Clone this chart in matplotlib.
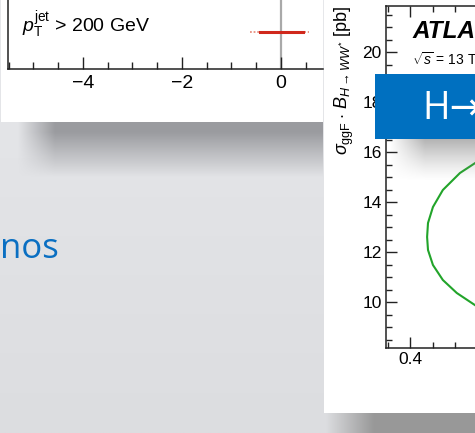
import numpy as np
import matplotlib
matplotlib.use("Agg")
import matplotlib.pyplot as plt
from matplotlib.patches import Rectangle
from matplotlib.ticker import MultipleLocator, FixedLocator

plt.rcParams['font.family'] = ['Liberation Sans', 'DejaVu Sans']
plt.rcParams['mathtext.fontset'] = 'custom'
plt.rcParams['mathtext.rm'] = 'Liberation Sans'
plt.rcParams['mathtext.it'] = 'Liberation Sans:italic'
plt.rcParams['mathtext.bf'] = 'Liberation Sans:bold'
plt.rcParams['mathtext.sf'] = 'Liberation Sans'

# ---- left chart: shift measurement for high-pT jets ----
shift_value = 0.01
shift_err_inner = [0.43, 0.44]      # down, up
shift_err_outer = [0.63, 0.56]      # down, up
shift_row = 0.54
left_major_ticks = [-4, -2, 0]
left_label = r"$p_{\mathrm{T}}^{\mathrm{jet}}$ > 200 GeV"

# ---- right chart: likelihood contour ----
contour_x = [0.544, 0.511, 0.473, 0.451, 0.440, 0.438, 0.440, 0.451, 0.473, 0.504, 0.544]
contour_y = [15.55, 15.16, 14.48, 13.80, 13.16, 12.60, 12.08, 11.48, 10.88, 10.36, 9.88]
right_yticks = [10, 12, 14, 16, 18, 20]
right_xticks = [0.4]
right_xtick_labels = ["0.4"]
right_ylabel = r"$\sigma_{\mathrm{ggF}}\cdot\, B_{H\rightarrow WW^{*}}$ [pb]"
experiment = "ATLAS"
energy_text = r"$\sqrt{s}$ = 13 TeV, 36.1 fb$^{-1}$"
banner_text = "H→WW*"
slide_word = "nos"

W, H = 475, 433
fig = plt.figure(figsize=(W / 100, H / 100), dpi=100)


def fig_rect(x0, y0, x1, y1):
    """Pixel box (top-left origin) -> figure fraction rect."""
    return [x0 / W, 1 - y1 / H, (x1 - x0) / W, (y1 - y0) / H]


def shade(ax, x0, x1, y0, y1, color, alpha_fn):
    xs = np.arange(x0, x1) + 0.5
    ys = np.arange(y0, y1) + 0.5
    X, Y = np.meshgrid(xs, ys)
    rgba = np.zeros(X.shape + (4,))
    rgba[..., :3] = matplotlib.colors.to_rgb(color)
    rgba[..., 3] = alpha_fn(X, Y)
    ax.imshow(rgba, extent=(x0, x1, y1, y0), interpolation='bilinear',
              aspect='auto', zorder=2)


# ---- slide background layer ----
bg = fig.add_axes([0, 0, 1, 1], zorder=0)
bg.set_xlim(0, W)
bg.set_ylim(H, 0)
bg.axis('off')
grad = np.linspace(0, 1, 200)[:, None]
top_c = np.array(matplotlib.colors.to_rgb('#e7e8eb'))
bot_c = np.array(matplotlib.colors.to_rgb('#dcdde0'))
bg_img = top_c[None, None, :] * (1 - grad[..., None]) + bot_c[None, None, :] * grad[..., None]
bg.imshow(np.repeat(bg_img, 2, axis=1), extent=(0, W, H, 0), aspect='auto', zorder=0)

# panel drop shadows
shade(bg, 0, 323, 122, 185, '#9a9b9f',
      lambda X, Y: np.clip(1 - (Y - 132) / 45, 0, 1) * np.clip((X - 18) / 37, 0, 1))
shade(bg, 324, 475, 413, 433, '#989898',
      lambda X, Y: np.clip((X - 326) / 48, 0, 1) * np.ones_like(Y))

# white panels
bg.add_patch(Rectangle((1, 0), 322, 122, facecolor='white', edgecolor='none', zorder=3))
bg.add_patch(Rectangle((324, 0), 151, 413, facecolor='white', edgecolor='none', zorder=3))

bg.text(0, 258, slide_word, ha='left', va='baseline', color='#0a6fc2',
        fontsize=25, family=['Open Sans', 'DejaVu Sans'], zorder=4)

# ---- left chart ----
axl = fig.add_axes(fig_rect(8, 0, 323, 69), zorder=1)
axl.set_facecolor('none')
axl.set_xlim((8 - 281) / 49.5, (323 - 281) / 49.5)
axl.set_ylim(0, 1)
axl.axvline(0, color='#a9a9a9', lw=1.6, zorder=1)
axl.plot([shift_value - shift_err_outer[0], shift_value + shift_err_outer[1]],
         [shift_row, shift_row], color='#e89080', lw=1.3, ls=(0, (1, 1)), zorder=2)
axl.plot([shift_value - shift_err_inner[0], shift_value + shift_err_inner[1]],
         [shift_row, shift_row], color='#d0281c', lw=2.2, zorder=3)
axl.text((22 - 8) / 315, (69 - 32) / 69, left_label, transform=axl.transAxes,
         va='baseline', ha='left', fontsize=14)
axl.xaxis.set_major_locator(FixedLocator(left_major_ticks))
axl.xaxis.set_minor_locator(MultipleLocator(0.5))
axl.set_yticks([])
axl.tick_params(axis='x', which='major', direction='in', length=9, width=1.0,
                labelsize=14, pad=4, colors='#222222', labelcolor='black')
axl.tick_params(axis='x', which='minor', direction='in', length=5, width=1.0, colors='#222222')
for side in ('top', 'right'):
    axl.spines[side].set_visible(False)
for side in ('left', 'bottom'):
    axl.spines[side].set_linewidth(1.1)
    axl.spines[side].set_color('#222222')

# ---- right chart ----
axr = fig.add_axes(fig_rect(386, 6, 600, 348), zorder=1)
axr.set_facecolor('none')
axr.set_xlim(0.4 + (386 - 410) / 450, 0.4 + (600 - 410) / 450)
axr.set_ylim(10 + (302 - 348) / 25, 10 + (302 - 6) / 25)
axr.plot(contour_x, contour_y, color='#22a42a', lw=1.5, solid_joinstyle='round')
axr.set_yticks(right_yticks)
axr.set_xticks(right_xticks)
axr.set_xticklabels(right_xtick_labels)
axr.xaxis.set_minor_locator(MultipleLocator(0.05))
axr.yaxis.set_minor_locator(MultipleLocator(0.5))
axr.tick_params(which='both', direction='in', top=True, right=True,
                colors='#222222', labelcolor='black')
axr.tick_params(which='major', length=8, width=1.0, labelsize=12.5, pad=3)
axr.tick_params(which='minor', length=4, width=1.0)
for sp in axr.spines.values():
    sp.set_linewidth(1.1)
    sp.set_color('#222222')
axr.set_ylabel(right_ylabel, loc='top', fontsize=13)
axr.yaxis.set_label_coords((356 - 386) / 214, 1.0)
axr.text((413 - 386) / 214, 1 - (38 - 6) / 342, experiment, transform=axr.transAxes,
         fontsize=17.5, weight='bold', style='italic', va='baseline', ha='left')
axr.text((412 - 386) / 214, 1 - (65 - 6) / 342, energy_text, transform=axr.transAxes,
         fontsize=10, va='baseline', ha='left')

# ---- title banner overlay ----
top = fig.add_axes([0, 0, 1, 1], zorder=3)
top.set_facecolor('none')
top.set_xlim(0, W)
top.set_ylim(H, 0)
top.axis('off')
shade(top, 376, 475, 139, 190, '#7f7f7f',
      lambda X, Y: 0.6 * np.clip(1 - (Y - 139) / 42, 0, 1) ** 1.3 * np.clip((X - 390) / 35, 0, 1))
top.add_patch(Rectangle((375, 74), 200, 65, facecolor='#0070c0', edgecolor='none', zorder=3))
top.text(422, 119, banner_text, color='white', fontsize=27, va='baseline', ha='left',
         family=['Open Sans', 'DejaVu Sans'], zorder=4)

fig.savefig("out.png", dpi=100)
